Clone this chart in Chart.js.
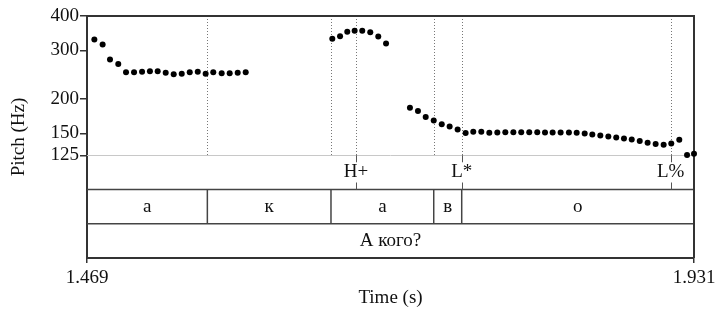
<!DOCTYPE html>
<html><head><meta charset="utf-8">
<script src="https://cdn.jsdelivr.net/npm/chart.js@4/dist/chart.umd.min.js"></script>
<style>html,body{margin:0;padding:0;background:#fff}#wrap{width:715px;height:309px}</style>
</head><body><div id="wrap"><canvas id="c" width="715" height="309"></canvas></div>
<script>
// ---- data ----
const pitchTimes = [
  1.4746, 1.4809, 1.4865, 1.4928, 1.4987, 1.5048, 1.5109, 1.5169, 1.5228, 1.5289,
  1.5350, 1.5411, 1.5472, 1.5533, 1.5593, 1.5651, 1.5715, 1.5776, 1.5837, 1.5898,
  1.6557, 1.6616, 1.6671, 1.6727, 1.6785, 1.6846, 1.6907, 1.6966,
  1.7148, 1.7209, 1.7268, 1.7329, 1.7390, 1.7450, 1.7511, 1.7572, 1.7630, 1.7691,
  1.7752, 1.7813, 1.7874, 1.7935, 1.7995, 1.8056, 1.8117, 1.8176, 1.8234, 1.8295,
  1.8358, 1.8417, 1.8478, 1.8536, 1.8597, 1.8658, 1.8718, 1.8777, 1.8836, 1.8897,
  1.8957, 1.9018, 1.9079, 1.9137, 1.9198, 1.9257, 1.9310
];
const pitchHz = [
  329, 315, 278, 268, 250, 250, 251, 252, 252, 249,
  246, 247, 250, 251, 247, 250, 248, 248, 249, 250,
  331, 338, 351, 354, 354, 349, 337, 318,
  186, 181, 172, 167, 162, 159, 155, 150.4, 152, 152,
  151, 151.3, 151.5, 151.5, 151.5, 151.5, 151.5, 151.3, 151.3, 151.2,
  151.3, 151, 150, 148.8, 147.5, 146.3, 145, 143.9, 142.7, 140.7,
  138.7, 137.2, 136.4, 138, 142.3, 125.4, 126.5
];
const segBoundaries = [1.469, 1.5606, 1.6547, 1.7329, 1.7542, 1.931];
const segLabels = ['а', 'к', 'а', 'в', 'о'];
const toneTimes = [1.6737, 1.7542, 1.9132];
const toneLabels = ['H+', 'L*', 'L%'];
const phraseLabels = ['А кого?'];
const xTicks = [1.469, 1.931];
const yTicks = [125, 150, 200, 300, 400];
const timeMin = 1.469, timeMax = 1.931;
const pitchMin = 125, pitchMax = 400;
const logAxisMin = 53; // lower end of the log axis, leaves room for the three tiers

const FONT = '"Liberation Serif", "DejaVu Serif", serif';
const DARK = '#333';

const tiersPlugin = {
  id: 'tiers',
  beforeDatasetsDraw(chart) {
    const ctx = chart.ctx, a = chart.chartArea;
    const xs = chart.scales.x, ys = chart.scales.y;
    const yFloor = ys.getPixelForValue(pitchMin);
    const rowH = (a.bottom - yFloor) / 3;
    ctx.save();
    const dotTimes = segBoundaries.slice(1, -1).concat(toneTimes);
    ctx.strokeStyle = '#777'; ctx.lineWidth = 1; ctx.setLineDash([1, 2]);
    dotTimes.forEach(t => {
      const x = Math.round(xs.getPixelForValue(t)) + 0.5;
      ctx.beginPath(); ctx.moveTo(x, a.top); ctx.lineTo(x, yFloor); ctx.stroke();
    });
    ctx.setLineDash([]);
    ctx.strokeStyle = '#c8c8c8'; ctx.lineWidth = 1;
    ctx.beginPath(); ctx.moveTo(a.left, Math.round(yFloor) + 0.5); ctx.lineTo(a.right, Math.round(yFloor) + 0.5); ctx.stroke();
    ctx.strokeStyle = '#444'; ctx.lineWidth = 1.5;
    [1, 2].forEach(i => {
      const y = yFloor + rowH * i;
      ctx.beginPath(); ctx.moveTo(a.left, y); ctx.lineTo(a.right, y); ctx.stroke();
    });
    segBoundaries.slice(1, -1).forEach(t => {
      const x = xs.getPixelForValue(t);
      ctx.beginPath(); ctx.moveTo(x, yFloor + rowH); ctx.lineTo(x, yFloor + 2 * rowH); ctx.stroke();
    });
    ctx.strokeStyle = '#555'; ctx.lineWidth = 1;
    toneTimes.forEach(t => {
      const x = Math.round(xs.getPixelForValue(t)) + 0.5;
      ctx.beginPath(); ctx.moveTo(x, yFloor); ctx.lineTo(x, yFloor + 7); ctx.stroke();
      ctx.beginPath(); ctx.moveTo(x, yFloor + rowH - 7); ctx.lineTo(x, yFloor + rowH); ctx.stroke();
    });
    ctx.fillStyle = '#111'; ctx.textAlign = 'center'; ctx.textBaseline = 'middle';
    ctx.font = '19px ' + FONT;
    toneTimes.forEach((t, i) => {
      ctx.fillText(toneLabels[i], xs.getPixelForValue(t), yFloor + rowH * 0.5);
    });
    segLabels.forEach((s, i) => {
      const xm = (xs.getPixelForValue(segBoundaries[i]) + xs.getPixelForValue(segBoundaries[i + 1])) / 2;
      ctx.fillText(s, xm, yFloor + rowH * 1.5);
    });
    ctx.fillText(phraseLabels[0], (xs.getPixelForValue(timeMin) + xs.getPixelForValue(timeMax)) / 2, yFloor + rowH * 2.5);
    ctx.strokeStyle = DARK; ctx.lineWidth = 2;
    ctx.beginPath(); ctx.moveTo(a.left, a.top); ctx.lineTo(a.right, a.top); ctx.lineTo(a.right, a.bottom); ctx.stroke();
    ctx.restore();
  }
};

new Chart(document.getElementById('c'), {
  type: 'scatter',
  data: {
    datasets: [{
      data: pitchTimes.map((t, i) => ({ x: t, y: pitchHz[i] })),
      backgroundColor: '#000', borderColor: '#000',
      pointRadius: 3, pointHoverRadius: 3, borderWidth: 0, clip: false
    }]
  },
  options: {
    responsive: false, animation: false,
    layout: { padding: { top: 16, right: 21, left: 0, bottom: 0 } },
    plugins: { legend: { display: false }, tooltip: { enabled: false } },
    scales: {
      x: {
        type: 'linear', min: timeMin, max: timeMax,
        afterBuildTicks: s => { s.ticks = xTicks.map(v => ({ value: v })); },
        afterFit: s => { s.height = 51; s.paddingLeft = 0; s.paddingRight = 0; },
        ticks: { callback: v => v.toFixed(3), color: '#111', font: { family: FONT, size: 19 }, padding: 4, maxRotation: 0, autoSkip: false },
        grid: { drawOnChartArea: false, drawTicks: true, tickLength: 5, color: DARK, lineWidth: 1.5 },
        border: { display: true, color: DARK, width: 2 },
        title: { display: true, text: 'Time (s)', color: '#111', font: { family: FONT, size: 19 }, padding: { top: 0, bottom: 0 } }
      },
      y: {
        type: 'logarithmic', min: logAxisMin, max: pitchMax,
        afterBuildTicks: s => { s.ticks = yTicks.map(v => ({ value: v })); },
        afterFit: s => { s.width = 87; s.paddingTop = 0; s.paddingBottom = 0; },
        ticks: { callback: v => String(v), color: '#111', font: { family: FONT, size: 19 }, padding: 1, autoSkip: false },
        grid: { drawOnChartArea: false, drawTicks: true, tickLength: 7, color: DARK, lineWidth: 1.5 },
        border: { display: true, color: DARK, width: 2 },
        title: { display: true, text: 'Pitch (Hz)', color: '#111', font: { family: FONT, size: 19 }, padding: { top: 8, bottom: 4 } }
      }
    }
  },
  plugins: [tiersPlugin]
});
</script></body></html>
